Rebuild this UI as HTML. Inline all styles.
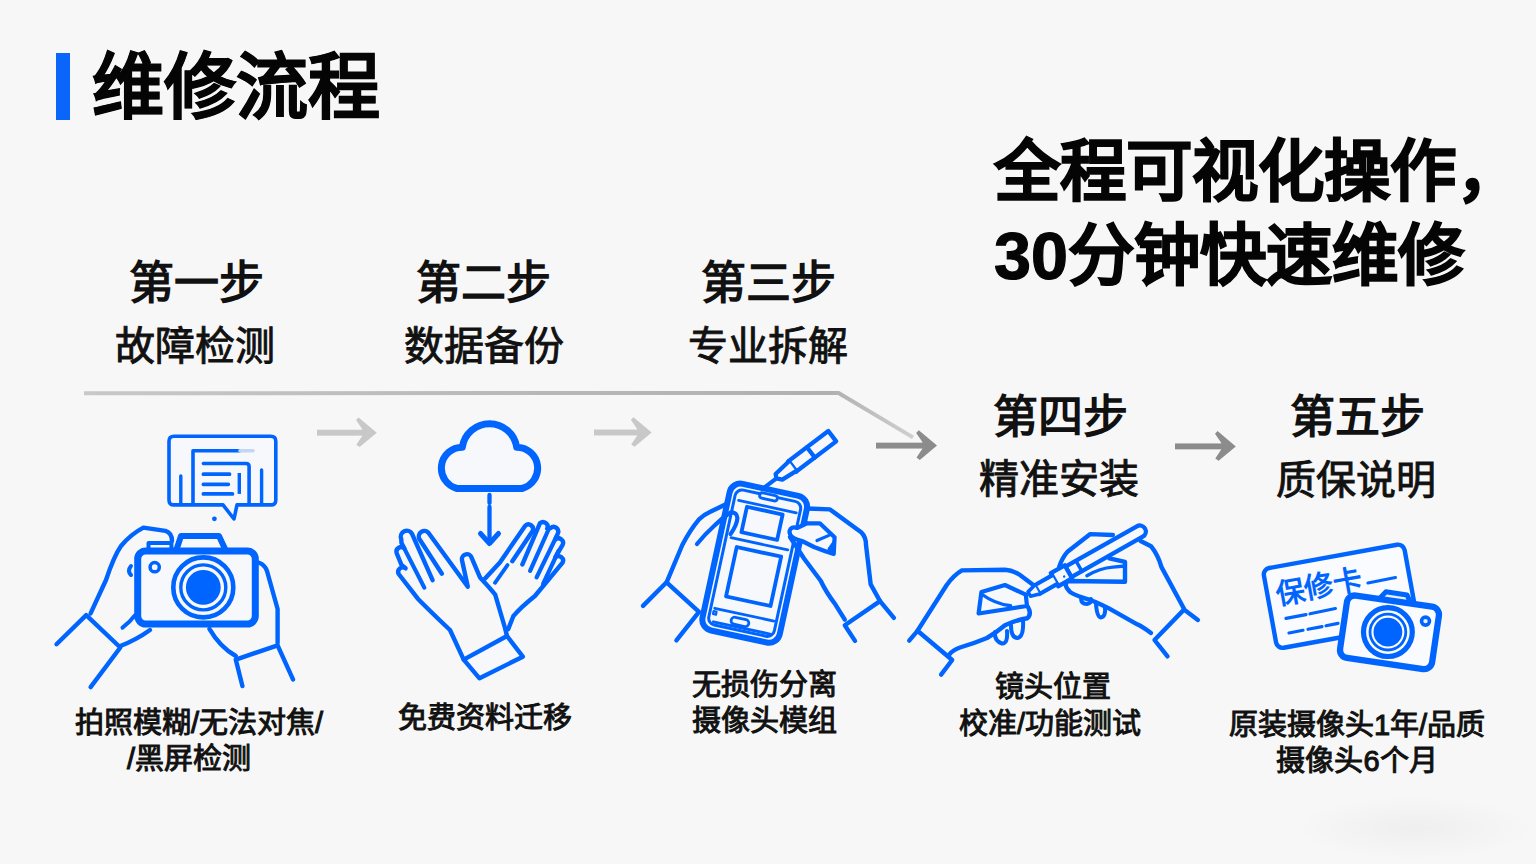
<!DOCTYPE html>
<html lang="zh-CN"><head><meta charset="utf-8">
<style>
html,body{margin:0;padding:0;}
body{width:1536px;height:864px;overflow:hidden;background:#f7f7f7;font-family:"Liberation Sans",sans-serif;color:#111;position:relative;}
.t{position:absolute;white-space:nowrap;line-height:1;}
.c{transform:translateX(-50%);text-align:center;}
#bar{position:absolute;left:56px;top:53px;width:14px;height:67px;background:#0a66fa;}
#title{left:92px;top:51px;font-size:72px;font-weight:900;color:#050505;-webkit-text-stroke:0.8px #050505;}
.h{font-size:45px;font-weight:700;}
.s{font-size:40px;font-weight:400;-webkit-text-stroke:0.9px #111;}
.cap{font-size:29px;font-weight:400;line-height:36px;-webkit-text-stroke:1px #111;}
.hl{font-size:66.5px;font-weight:900;color:#050505;-webkit-text-stroke:1.2px #050505;}
svg{position:absolute;left:0;top:0;}
</style></head><body>
<svg width="1536" height="864" viewBox="0 0 1536 864">
<defs><radialGradient id="sm" cx="0.5" cy="0.5" r="0.5"><stop offset="0" stop-color="#000" stop-opacity="0.035"/><stop offset="1" stop-color="#000" stop-opacity="0"/></radialGradient></defs><ellipse cx="1415" cy="828" rx="120" ry="32" fill="url(#sm)"/>
<g fill="none" stroke-linecap="round" stroke-linejoin="round">
<defs><linearGradient id="lg" x1="84" y1="0" x2="913" y2="0" gradientUnits="userSpaceOnUse"><stop offset="0" stop-color="#c8c8c8"/><stop offset="0.5" stop-color="#b9b9b9"/><stop offset="0.9" stop-color="#b0b0b0"/><stop offset="1" stop-color="#cfcfcf"/></linearGradient></defs>
<path d="M84,393.2 L838.6,393 L913,437.4" stroke="url(#lg)" stroke-width="4" stroke-linecap="butt"/>
<rect x="317" y="429.75" width="46.2" height="5.9" fill="#c8c8c8"/><polygon points="356.0,420.0 358.6,417.4 376.8,432.7 359.6,447.0 356.3,444.7 362.2,435.9 362.2,429.1" fill="#c8c8c8"/>
<rect x="594" y="429.55" width="44.1" height="5.9" fill="#c8c8c8"/><polygon points="630.9,419.8 633.5,417.2 651.7,432.5 634.5,446.8 631.2,444.5 637.1,435.7 637.1,428.9" fill="#c8c8c8"/>
<rect x="876" y="442.65" width="47.4" height="5.9" fill="#8c8c8c"/><polygon points="916.2,432.9 918.8,430.3 937.0,445.6 919.8,459.9 916.5,457.6 922.4,448.8 922.4,442.0" fill="#8c8c8c"/>
<rect x="1175" y="443.45" width="47.2" height="5.9" fill="#8c8c8c"/><polygon points="1215.0,433.7 1217.6,431.1 1235.8,446.4 1218.6,460.7 1215.3,458.4 1221.2,449.6 1221.2,442.8" fill="#8c8c8c"/>
</g>
<g fill="none" stroke="#0064fe" stroke-linecap="round" stroke-linejoin="round">
<path d="M174,436.3 L270.8,436.3 Q275.8,436.3 275.8,441.3 L275.8,499.9 Q275.8,504.9 270.8,504.9 L237,504.9 L234,519 L223,504.9 L174,504.9 Q169,504.9 169,499.9 L169,441.3 Q169,436.3 174,436.3 Z" stroke-width="3.6" fill="#f6f8fc"/>
<circle cx="214.4" cy="518.8" r="2.4" fill="#0064fe" stroke="none"/>
<path d="M180.8,476 L180.8,504 M261.6,470 L261.6,504" stroke-width="3.4"/>
<path d="M193,504 L193,450.7 L240,450.7" stroke-width="3.6"/>
<path d="M240,450.7 L253,450.7" stroke="#c5d6f5" stroke-width="3.6"/>
<path d="M203.4,463.5 L246,463.5 Q249.1,463.5 249.1,466.5 L249.1,504" stroke-width="3.6"/>
<path d="M203.4,474.2 L229.5,474.2 M203.4,484.3 L228.3,484.3 M203.4,493.9 L232.4,493.9" stroke-width="3.8"/>
<path d="M239.3,473 L239.3,493.9" stroke-width="3.4" stroke-linecap="butt"/>
<path d="M176,551 L181,536 L219,536 L226,551" stroke-width="6" fill="#f6f8fc"/>
<rect x="137.7" y="551" width="117.6" height="73" rx="8" stroke-width="7" fill="#f6f8fc"/>
<path d="M148.5,549 L148.5,543 L171.4,543 L171.4,549" stroke-width="4"/>
<circle cx="154.7" cy="567.2" r="4.6" stroke-width="3.5"/>
<circle cx="203.3" cy="587.4" r="30" stroke-width="4.6"/>
<circle cx="203.3" cy="587.4" r="22.5" stroke-width="3.4"/>
<circle cx="203.3" cy="587.4" r="17.4" fill="#0064fe" stroke="none"/>
<path d="M56.5,644.2 L86.2,615.1 L120.3,647.5 L90.6,687.1" stroke-width="4.4"/>
<path d="M90.6,613.4 L106,580 Q114,556 121,546 Q131,534 143.4,527.6 L165.4,530.9 Q172,533 172,541" stroke-width="4.4"/>
<path d="M120.3,646 Q136,640 150,630" stroke-width="4.4"/>
<path d="M122.5,627.7 Q130,622 134.6,615.6" stroke-width="4"/>
<path d="M131,566 Q127,571 131,575" stroke-width="4"/>
<path d="M259,562.8 Q265,565 267,571 L277.6,609 L277.6,643" stroke-width="4.4"/>
<path d="M235.8,659.6 L277.6,645.3 L293,679.4 M235.8,659.6 L242.4,686" stroke-width="4.4"/>
<path d="M209.4,628.8 Q220,647 235.8,656" stroke-width="4.4"/>
</g>
<g fill="none" stroke="#0064fe" stroke-linecap="round" stroke-linejoin="round">
<path d="M457,488.5 A21,21 0 0 1 462.3,447.2 A27.5,27.5 0 0 1 516.7,447.2 A21,21 0 0 1 522,488.5 Z" stroke-width="7" fill="#f6f8fc"/>
<path d="M489.5,495 L489.5,503 M489.5,507 L489.5,543" stroke-width="4.3"/>
<path d="M480.5,533.5 L489.5,543.5 L498.5,533.5" stroke-width="5"/>
<!-- right glove (behind) -->
<path d="M485.3,578.3 L499.9,562.4 L525.4,525.6 A4.6,4.6 0 0 1 532.6,531 L512.3,561.2" stroke-width="4.4"/>
<path d="M522.4,564.4 L540,523.2 A4.6,4.6 0 0 1 547.2,528.6 L550.6,528.1 A4.6,4.6 0 0 1 557.8,533.5 L555.4,539.4 A4.6,4.6 0 0 1 562.6,544.8 L555.4,557.2 A4.6,4.6 0 0 1 562.6,562.6 L534.9,596 Q520,608 513.3,616.2 L508.2,629.2" stroke-width="4.4"/>
<path d="M549,528.5 L530.1,570.9 M556.5,536.5 L536.6,577.4 M558.5,551 L543.1,583.9" stroke-width="4.2"/>
<path d="M507.5,565.1 L495,582.8" stroke-width="3.8"/>
<!-- left glove (front) -->
<path d="M463.7,659.6 L450,630 Q432,613 417.8,598.7 L398.7,574 A4.6,4.6 0 0 1 405.6,568.3 L401.5,565 L396.6,553 A4.6,4.6 0 0 1 404.4,548.6 L401.5,543 L401.25,539.05 A6,6 0 0 1 412.15,534.05 L432.6,580.2" stroke-width="4.4"/>
<path d="M441.9,573.7 L419.2,538.7 A5.6,5.6 0 0 1 428.4,532.7 L467.8,586.7 L462,560.2 A5,5 0 0 1 471.8,558.2 L480,577.4 Q490,588 495.2,594.6 L505,628 L507,636" stroke-width="4.4"/>
<path d="M404.4,548.6 L424.3,587.6" stroke-width="4.2"/>
<path d="M463.7,659.6 L507,636 L522.8,656.7 L479.5,678.3 Z" stroke-width="4.4" fill="#f6f8fc"/>
</g>
<g fill="none" stroke="#0064fe" stroke-linecap="round" stroke-linejoin="round">
<!-- left hand -->
<path d="M643,605.9 L666.6,582.3 L699,611.8 L676.4,640.3" stroke-width="4.4"/>
<path d="M666.6,582.3 L682.3,545 Q690,530 699,519.3 Q705,514 710.8,511.5 L727.5,503.6" stroke-width="4.4"/>
<!-- phone -->
<g transform="translate(754.7,563.2) rotate(12.2)">
<rect x="-39.5" y="-75" width="79" height="150" rx="11" stroke-width="6" fill="#f6f8fc"/>
<rect x="-33.5" y="-69" width="67" height="138" rx="7" stroke-width="3"/>
<rect x="-9.5" y="-70.5" width="18" height="5.5" rx="2.7" stroke-width="2.8" fill="#f6f8fc"/>
<path d="M-29,-58 L30,-58 M-28.5,-20 L29.5,-20 M-29.5,52.5 L31,52.5 M-28,66 L31,66" stroke-width="2.8"/>
<rect x="-19.5" y="-53.5" width="36.5" height="26" stroke-width="3.8"/>
<rect x="-21" y="-12" width="45.5" height="50.5" stroke-width="3.8"/>
<rect x="-11" y="57" width="18" height="7" rx="3.5" stroke-width="2.8"/>
<rect x="-30" y="55.5" width="3" height="3" stroke-width="2.2"/>
</g>
<path d="M697,544 Q705,534 714.8,525.2 Q722,518 730.5,512.5 Q737,512 737.4,518 Q737,525 730.5,534.1" stroke-width="4.2"/>
<!-- tool -->
<g transform="translate(832.25,436.2) rotate(142.9)">
<path d="M0,-6.5 L50,-6.5 L50,6.5 L0,6.5 Z" stroke-width="4.3" fill="#f6f8fc"/>
<path d="M26.8,-6.5 L26.8,6.5 M50,-6.5 L50,6.5" stroke-width="4.3"/>
<path d="M50,-6 L66,-4.5 L70,0 L68,4 L50,6" stroke-width="4.2" fill="#f6f8fc"/>
<path d="M70,0 L87,0" stroke-width="4.2"/>
</g>
<!-- right hand -->
<path d="M806.9,508.5 L830,509.4 L861.5,532.6 Q866,537 866,545 L870.7,584.4 L880,601.1" stroke-width="4.4" fill="none"/>
<path d="M880,601.1 L844.8,625.2 L855,640.9 M880,601.1 L893.9,617.8" stroke-width="4.4"/>
<path d="M844.8,619.6 L835.6,604.8 Q826,592 820.7,580.7 L804,558.5 Q796,546 790,537" stroke-width="4.4"/>
<path d="M806.9,523.3 L819.8,523.3 L834.6,537.2 L833.7,553.9 Q824,551 814,547 L802,541 Q789,538 789.5,531 Q791,526 797,528 L806.9,523.3" stroke-width="4.2" fill="#f6f8fc"/>
<path d="M817,540.5 L829,535.4" stroke-width="3.2"/>
<path d="M829,549 L833.7,553.9 L834.6,541 Z" stroke-width="3" fill="#0064fe"/>
</g>
<g fill="none" stroke="#0064fe" stroke-linecap="round" stroke-linejoin="round">
<!-- left hand -->
<path d="M909.2,640.6 L917.5,630.8 L952.2,660 L941.1,674.6" stroke-width="4.4"/>
<path d="M917.5,630.8 L946.7,585 Q954,575 961.9,570.4 L1005,569.7 Q1012,570 1020,575 L1037,587.8" stroke-width="4.4"/>
<path d="M949.4,654.4 Q953,650 960,647.5 Q975,643 987,638 Q997,632 1005,625.3 Q1016,620 1027.2,618.3 Q1032,614 1028,607" stroke-width="4.4"/>
<path d="M995,632 Q994,641 1002,643.5 Q1008,644 1007,631 M1011,625 Q1011,638 1017.5,638 Q1024,637 1023,620" stroke-width="4"/>
<path d="M981.4,592 L1005,585 L1025.8,594.7 L1027,606 L978.6,613.5 Z" stroke-width="4.2" fill="#f6f8fc"/>
<path d="M981.4,594 Q995,604 1010.6,605.8" stroke-width="3.4"/>
<!-- pen -->
<g transform="translate(1139.8,531.5) rotate(150.5)">
<path d="M0,-6 L82,-6 L82,6 L0,6 A6,6 0 0 1 0,-6 Z" stroke-width="4.3" fill="#f6f8fc"/>
<path d="M70,-6 L70,6" stroke-width="3.5"/>
<path d="M82,-7.5 L98,-7.5 L98,7.5 L82,7.5 Z" stroke-width="4.3" fill="#f6f8fc"/>
<path d="M98,-5 L118,-5 L118,5 L98,5" stroke-width="4.2" fill="#f6f8fc"/>
<path d="M118,-5 L127,-2.5 L127,2.5 L118,5" stroke-width="3.6" fill="#f6f8fc"/>
<circle cx="88" cy="-2" r="1.2" fill="#0064fe" stroke="none"/>
</g>
<!-- right hand -->
<path d="M1059.1,567.1 Q1062,558 1067.8,551.4 L1090.3,534.1 L1112.9,535" stroke-width="4.4"/>
<path d="M1140.6,541 L1151,546.2 Q1158,555 1161.5,567.1 L1184,608.7" stroke-width="4.4"/>
<path d="M1184,609.6 L1154.5,640 L1167.5,656.4 M1184,609.6 L1197.9,620" stroke-width="4.4"/>
<path d="M1151,633 Q1143,627 1137.2,624.3 L1109.4,608.7 Q1095,601 1085.1,598.3 Q1072,594 1069.5,591.4 Q1063,585 1067.8,581 L1125,581.8 L1125,561.9 L1109.4,558.4" stroke-width="4.4"/>
<path d="M1081,598 Q1081,604 1086.9,604 Q1092,603 1091,599 M1096,604 Q1097,617 1100.7,617.4 Q1106,617 1105,607" stroke-width="4"/>
<path d="M1086.9,575.7 Q1100,568 1112.9,567.1 L1125,566" stroke-width="3.4"/>
</g>
<g fill="none" stroke="#0064fe" stroke-linecap="round" stroke-linejoin="round">
<!-- card -->
<g transform="translate(1340.35,596.25) rotate(-10.3)">
<rect x="-71.5" y="-40.5" width="143" height="81" rx="6.5" stroke-width="4.4" fill="#fafbfe"/>
</g>
<text x="0" y="0" transform="translate(1277.5,604.5) rotate(-10.3)" font-size="29" font-weight="700" fill="#0064fe" stroke="none" font-family="Liberation Sans, sans-serif">保修卡</text>
<path d="M1367.9,583 L1395.5,577.5" stroke-width="3"/>
<path d="M1286,618.4 L1306,614.6 M1310,613.8 L1335.4,608.5" stroke-width="3.2"/>
<path d="M1289,633 L1303,630.3 M1308,629.3 L1322,626.6 M1326,625.8 L1338,623.4" stroke-width="3.2"/>
<!-- camera -->
<g transform="translate(1389.5,632.3) rotate(8.3)">
<path d="M-15,-31.5 L-9.5,-39.5 L12,-39.5 L17,-31.5 Z" stroke-width="5" fill="#e9f0fc"/>
<rect x="-46.5" y="-31.5" width="93" height="63" rx="8" stroke-width="6.3" fill="#fafbfe"/>
</g>
<circle cx="1387.9" cy="632.1" r="24.4" stroke-width="5.2"/>
<circle cx="1387.9" cy="632.1" r="17.9" stroke-width="2.8"/>
<circle cx="1387.9" cy="632.1" r="14.4" fill="#0064fe" stroke="none"/>
<circle cx="1425.5" cy="621.1" r="4" stroke-width="3.6" fill="#eaf1fd"/>
</g>
</svg>
<div id="bar"></div>
<div class="t" id="title">维修流程</div>
<div class="t hl" style="left:994px;top:139px">全程可视化操作，</div>
<div class="t hl" style="left:994px;top:223px">30分钟快速维修</div>

<div class="t c h" style="left:196px;top:261px">第一步</div>
<div class="t c s" style="left:195px;top:326px">故障检测</div>
<div class="t c h" style="left:483px;top:261px">第二步</div>
<div class="t c s" style="left:484px;top:326px">数据备份</div>
<div class="t c h" style="left:768px;top:261px">第三步</div>
<div class="t c s" style="left:768px;top:326px">专业拆解</div>
<div class="t c h" style="left:1060px;top:395px">第四步</div>
<div class="t c s" style="left:1059px;top:459px">精准安装</div>
<div class="t c h" style="left:1357px;top:395px">第五步</div>
<div class="t c s" style="left:1356px;top:460px">质保说明</div>

<div class="t c cap" style="left:199px;top:705px">拍照模糊/无法对焦/</div>
<div class="t c cap" style="left:189px;top:741px">/黑屏检测</div>
<div class="t c cap" style="left:485px;top:700px">免费资料迁移</div>
<div class="t c cap" style="left:764px;top:667px">无损伤分离<br>摄像头模组</div>
<div class="t c cap" style="left:1053px;top:669px">镜头位置</div>
<div class="t c cap" style="left:1050px;top:706px">校准/功能测试</div>
<div class="t c cap" style="left:1357px;top:707px">原装摄像头1年/品质</div>
<div class="t c cap" style="left:1357px;top:743px">摄像头6个月</div>
</body></html>
